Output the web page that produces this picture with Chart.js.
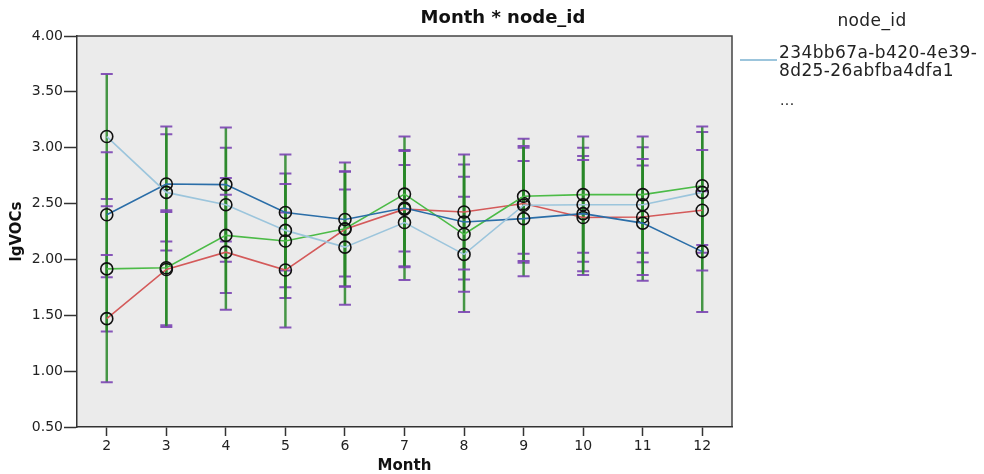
<!DOCTYPE html>
<html>
<head>
<meta charset="utf-8">
<script src="https://cdn.jsdelivr.net/npm/chart.js@4.4.1/dist/chart.umd.min.js"></script>
<style>
  body { margin: 0; background: #fff; }
  #wrap { position: relative; width: 984px; height: 474px; }
  #legend { position: absolute; left: 0; top: 0; font-family: "DejaVu Sans", sans-serif; color: #222; font-size: 17px; letter-spacing: 0.4px; }
  #legend .title { position: absolute; left: 800px; width: 144px; top: 10px; text-align: center; }
  #legend .swatch { position: absolute; left: 740px; top: 59px; width: 37px; height: 2px; background: #9cc5dc; }
  #legend .label { position: absolute; left: 779px; top: 43px; line-height: 18px; white-space: nowrap; }
  #legend .more { position: absolute; left: 780px; top: 92px; font-size: 14px; }
</style>
</head>
<body>
<div id="wrap">
  <canvas id="graph"></canvas>
  <div id="legend">
    <div class="title">node_id</div>
    <div class="swatch"></div>
    <div class="label">234bb67a-b420-4e39-<br>8d25-26abfba4dfa1</div>
    <div class="more">...</div>
  </div>
</div>
<script>
const MONTHS = ['2', '3', '4', '5', '6', '7', '8', '9', '10', '11', '12']

// mean lgVOCs per node
const lightBlue = [3.10, 2.60, 2.49, 2.26, 2.11, 2.33, 2.045, 2.485, 2.49, 2.49, 2.60]
const darkBlue = [2.40, 2.675, 2.67, 2.42, 2.357, 2.46, 2.335, 2.365, 2.41, 2.325, 2.07]
const green = [1.915, 1.925, 2.215, 2.165, 2.275, 2.585, 2.225, 2.565, 2.58, 2.58, 2.66]
const red = [1.47, 1.91, 2.065, 1.905, 2.27, 2.45, 2.425, 2.50, 2.375, 2.38, 2.44]

// half width of the error bars
const lightBlueErr = [0.56, 0.52, 0.51, 0.51, 0.515, 0.515, 0.515, 0.515, 0.51, 0.515, 0.54]
const darkBlueErr = [0.56, 0.515, 0.51, 0.52, 0.51, 0.52, 0.515, 0.515, 0.515, 0.515, 0.54]
const greenErr = [0.56, 0.515, 0.515, 0.51, 0.515, 0.515, 0.515, 0.515, 0.52, 0.52, 0.53]
const redErr = [0.57, 0.515, 0.515, 0.515, 0.515, 0.52, 0.515, 0.515, 0.515, 0.52, 0.54]

const Y_TICKS = [0.5, 1.0, 1.5, 2.0, 2.5, 3.0, 3.5, 4.0]

const SERIES = [
  { label: '234bb67a-b420-4e39-8d25-26abfba4dfa1', colour: '#9cc5dc', data: lightBlue, err: lightBlueErr },
  { label: 'node 2', colour: '#2b6ea8', data: darkBlue, err: darkBlueErr },
  { label: 'node 3', colour: '#4cbb47', data: green, err: greenErr },
  { label: 'node 4', colour: '#d45a5a', data: red, err: redErr },
]

const plotBackground = {
  id: 'plotBackground',
  beforeDraw(chart) {
    const { ctx, chartArea: a } = chart
    ctx.save()
    ctx.fillStyle = '#ebebeb'
    ctx.fillRect(a.left, a.top, a.right - a.left, a.bottom - a.top)
    ctx.strokeStyle = '#444'
    ctx.lineWidth = 1.5
    ctx.beginPath()
    ctx.moveTo(a.left, a.top)
    ctx.lineTo(a.right, a.top)
    ctx.lineTo(a.right, a.bottom)
    ctx.stroke()
    ctx.restore()
  },
}

const errorBars = {
  id: 'errorBars',
  beforeDatasetsDraw(chart) {
    const { ctx } = chart
    const xs = chart.scales.x
    const ys = chart.scales.y
    ctx.save()
    SERIES.forEach(s => {
      s.data.forEach((v, i) => {
        const x = xs.getPixelForValue(i)
        const top = ys.getPixelForValue(v + s.err[i])
        const bot = ys.getPixelForValue(v - s.err[i])
        ctx.strokeStyle = 'rgba(40,135,40,0.85)'
        ctx.lineWidth = 2.5
        ctx.beginPath()
        ctx.moveTo(x, top)
        ctx.lineTo(x, bot)
        ctx.stroke()
        ctx.strokeStyle = 'rgba(123,69,179,0.9)'
        ctx.lineWidth = 2
        ctx.beginPath()
        ctx.moveTo(x - 6, top)
        ctx.lineTo(x + 6, top)
        ctx.moveTo(x - 6, bot)
        ctx.lineTo(x + 6, bot)
        ctx.stroke()
      })
    })
    ctx.restore()
  },
}

const ctx = document.getElementById('graph').getContext('2d')

let graph = new Chart(ctx, {
  type: 'line',
  data: {
    labels: MONTHS,
    datasets: SERIES.map(s => ({
      label: s.label,
      data: s.data,
      yAxisID: 'y',
      borderColor: s.colour,
      backgroundColor: 'transparent',
      borderWidth: 1.6,
      pointRadius: 6,
      pointBorderColor: '#111',
      pointBackgroundColor: 'transparent',
      pointBorderWidth: 1.6,
      tension: 0,
    })),
  },
  options: {
    responsive: true,
    maintainAspectRatio: false,
    animation: false,
    layout: { padding: { left: 22, right: 0, top: 0, bottom: 0 } },
    plugins: {
      legend: { display: false },
      tooltip: { enabled: false },
      title: {
        display: true,
        text: 'Month * node_id',
        color: '#111',
        font: { family: 'DejaVu Sans', size: 18, weight: 'bold' },
        padding: { top: 8, bottom: 6.4 },
      },
    },
    scales: {
      x: {
        offset: true,
        afterFit(scale) { scale.height = 47 },
        border: { color: '#333', width: 1.5 },
        grid: { drawOnChartArea: false, drawTicks: true, tickLength: 9, tickColor: '#333', tickWidth: 1.5, offset: false },
        ticks: { color: '#222', padding: 2, font: { family: 'DejaVu Sans', size: 14 } },
        title: {
          display: true,
          text: 'Month',
          color: '#111',
          font: { family: 'DejaVu Sans', size: 15, weight: 'bold' },
          padding: { top: 0, bottom: -1 },
        },
      },
      y: {
        min: 0.5,
        max: 4.0,
        afterFit(scale) { scale.width = 55 },
        afterBuildTicks(scale) { scale.ticks = Y_TICKS.map(v => ({ value: v })) },
        border: { color: '#333', width: 1.5 },
        grid: { drawOnChartArea: false, drawTicks: true, tickLength: 13, tickColor: '#333', tickWidth: 1.5 },
        ticks: {
          color: '#222',
          padding: 1,
          font: { family: 'DejaVu Sans', size: 14 },
          callback: v => Number(v).toFixed(2),
        },
        title: {
          display: true,
          text: 'lgVOCs',
          color: '#111',
          font: { family: 'DejaVu Sans', size: 15, weight: 'bold' },
          padding: { top: -14, bottom: 0 },
        },
      },
      // empty right-hand strip where the legend sits
      side: {
        type: 'linear',
        position: 'right',
        display: true,
        afterFit(scale) { scale.width = 252 },
        border: { display: false },
        grid: { display: false },
        ticks: { display: false },
      },
    },
  },
  plugins: [plotBackground, errorBars],
})
</script>
</body>
</html>
